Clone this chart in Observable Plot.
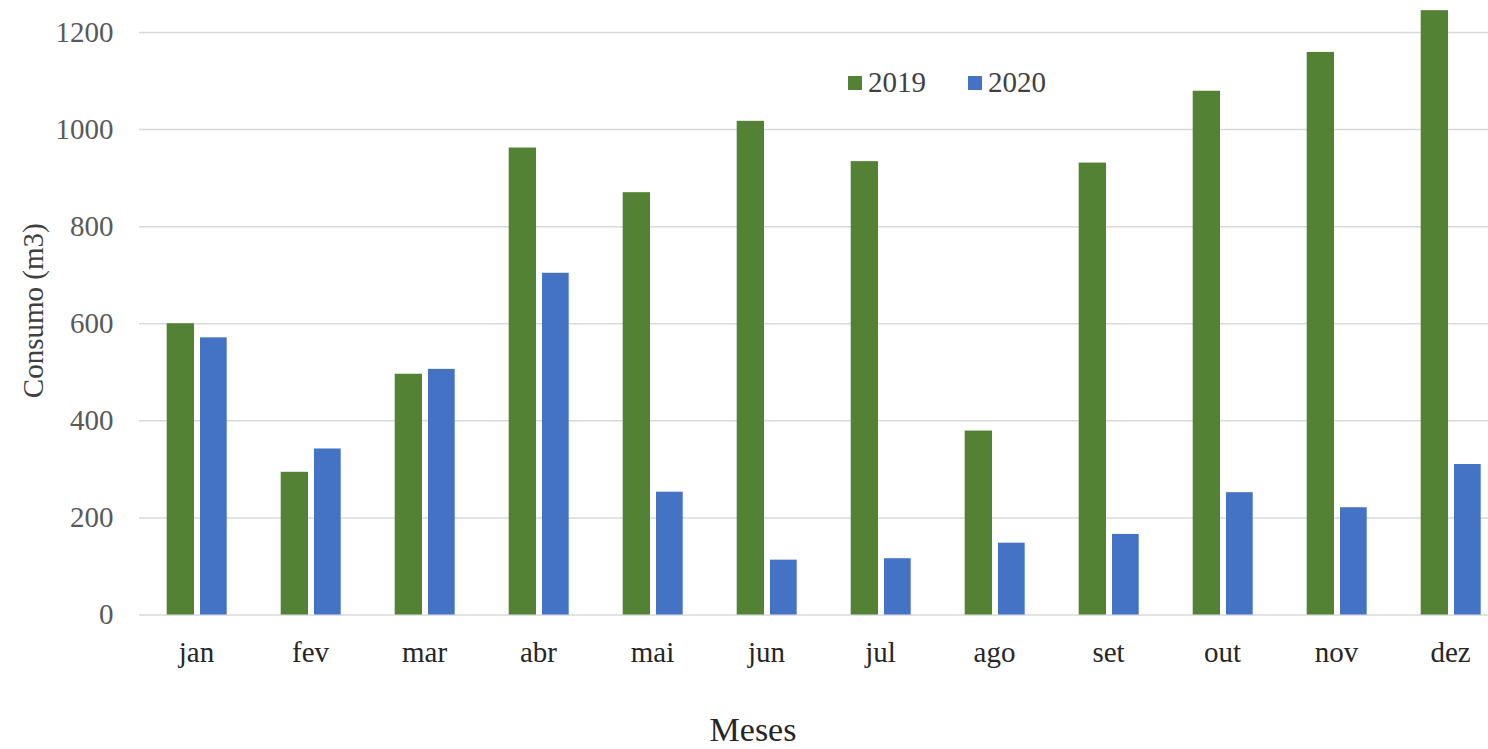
<!DOCTYPE html>
<html>
<head>
<meta charset="utf-8">
<script src="https://cdn.jsdelivr.net/npm/d3@7"></script>
<script src="https://cdn.jsdelivr.net/npm/@observablehq/plot@0.6"></script>
<style>
  html, body { margin: 0; padding: 0; background: #fff; }
  #wrap { position: relative; width: 1488px; height: 749px; font-family: "Liberation Serif", "DejaVu Serif", serif; }
  #legend { position: absolute; left: 848px; top: 66px; display: flex; gap: 42px; font-size: 29px; color: #404040; }
  #legend .item { display: flex; align-items: center; }
  #legend .sw { width: 14px; height: 14px; margin-right: 6px; }
</style>
</head>
<body>
<div id="wrap">
  <div id="chart"></div>
  <div id="legend"></div>
</div>
<script>
const months = ["jan","fev","mar","abr","mai","jun","jul","ago","set","out","nov","dez"];
const values2019 = [600, 294, 496, 962, 870, 1017, 934, 379, 931, 1079, 1159, 1245];
const values2020 = [571, 342, 506, 704, 253, 113, 116, 148, 166, 252, 221, 310];
const years = ["2019", "2020"];
const colors = ["#548235", "#4472C4"];
const yTicks = [0, 200, 400, 600, 800, 1000, 1200];

const rows2019 = months.map((m, i) => ({month: m, value: values2019[i]}));
const rows2020 = months.map((m, i) => ({month: m, value: values2020[i]}));

const chart = Plot.plot({
  width: 1488,
  height: 749,
  marginLeft: 139,
  marginRight: 0,
  marginTop: 32,
  marginBottom: 134.5,
  style: {fontFamily: "Liberation Serif, DejaVu Serif, serif", background: "#fff"},
  x: {domain: months, range: [139, 1507], padding: 0},
  y: {domain: [0, 1200]},
  marks: [
    Plot.ruleY(yTicks, {stroke: "#d9d9d9", strokeWidth: 1.5}),
    Plot.axisY({ticks: yTicks, tickFormat: d => String(d), tickSize: 0, tickPadding: 26, label: null, fontSize: 29, color: "#595959"}),
    Plot.axisX({tickSize: 0, tickPadding: 26, label: null, fontSize: 29, color: "#262626"}),
    Plot.barY(rows2019, {x: "month", y: "value", fill: colors[0], insetLeft: 27.7, insetRight: 59}),
    Plot.barY(rows2020, {x: "month", y: "value", fill: colors[1], insetLeft: 61, insetRight: 26.3}),
    Plot.text(["Consumo (m3)"], {frameAnchor: "left", dx: -106, dy: -13, rotate: -90, fontSize: 29, fill: "#404040", textAnchor: "middle"}),
    Plot.text(["Meses"], {frameAnchor: "bottom", dx: -61, dy: 126, fontSize: 34, fill: "#262626"})
  ]
});
document.getElementById("chart").appendChild(chart);

const legend = document.getElementById("legend");
years.forEach((y, i) => {
  const item = document.createElement("div");
  item.className = "item";
  const sw = document.createElement("div");
  sw.className = "sw";
  sw.style.background = colors[i];
  const t = document.createElement("span");
  t.textContent = y;
  item.appendChild(sw);
  item.appendChild(t);
  legend.appendChild(item);
});
</script>
</body>
</html>
